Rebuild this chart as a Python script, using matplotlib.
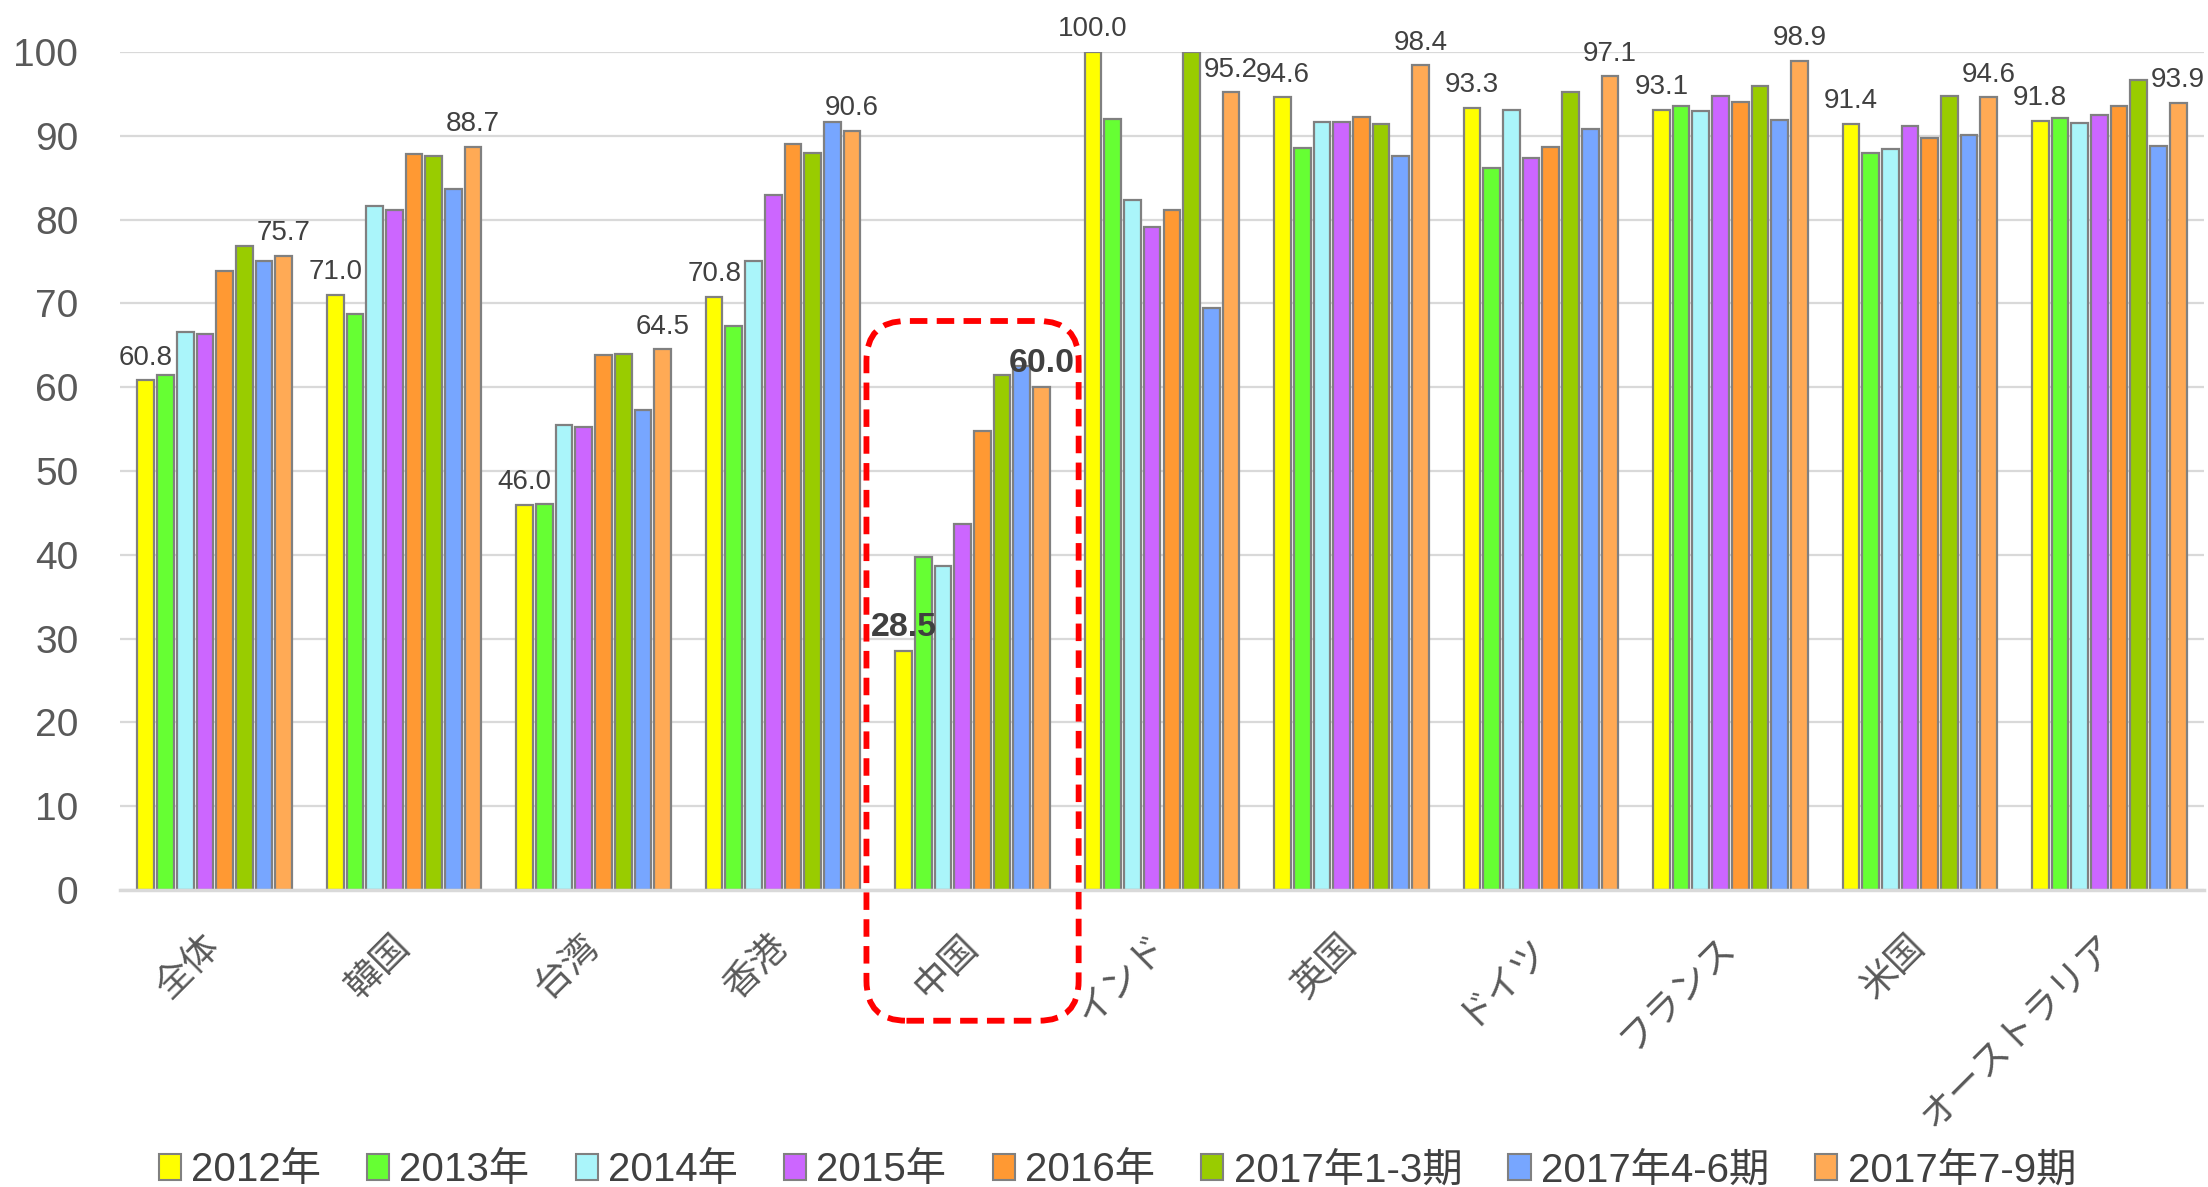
import matplotlib
matplotlib.use('Agg')
import matplotlib.pyplot as plt
from matplotlib.patches import FancyBboxPatch
from matplotlib.transforms import IdentityTransform
import numpy as np

plt.rcParams['font.family'] = ['Liberation Sans', 'Noto Sans CJK JP', 'DejaVu Sans']

categories = ['全体', '韓国', '台湾', '香港', '中国', 'インド', '英国', 'ドイツ', 'フランス', '米国', 'オーストラリア']
series_names = ['2012年', '2013年', '2014年', '2015年', '2016年', '2017年1-3期', '2017年4-6期', '2017年7-9期']
v2012 = [60.8, 71.0, 46.0, 70.8, 28.5, 100.0, 94.6, 93.3, 93.1, 91.4, 91.8]
v2013 = [61.5, 68.7, 46.1, 67.3, 39.7, 92.0, 88.5, 86.1, 93.5, 87.9, 92.1]
v2014 = [66.6, 81.6, 55.5, 75.1, 38.7, 82.3, 91.7, 93.1, 92.9, 88.4, 91.5]
v2015 = [66.4, 81.1, 55.2, 82.9, 43.7, 79.1, 91.7, 87.4, 94.8, 91.2, 92.5]
v2016 = [73.9, 87.8, 63.9, 89.0, 54.8, 81.2, 92.3, 88.7, 94.0, 89.7, 93.5]
v2017_1_3 = [76.8, 87.6, 64.0, 88.0, 61.5, 100.0, 91.4, 95.2, 95.9, 94.8, 96.6]
v2017_4_6 = [75.1, 83.6, 57.3, 91.6, 62.5, 69.4, 87.6, 90.8, 91.9, 90.1, 88.8]
v2017_7_9 = [75.7, 88.7, 64.5, 90.6, 60.0, 95.2, 98.4, 97.1, 98.9, 94.6, 93.9]
series_values = [v2012, v2013, v2014, v2015, v2016, v2017_1_3, v2017_4_6, v2017_7_9]
colors = ['#FFFF00', '#66FF33', '#AAF5FA', '#CC66FF', '#FF9933', '#99CC00', '#77A6FF', '#FFAA55']
yticks = [0, 10, 20, 30, 40, 50, 60, 70, 80, 90, 100]
highlight = '中国'

W, H = 2208, 1187
fig = plt.figure(figsize=(W / 100, H / 100), dpi=100)
ax = fig.add_axes([120 / W, 1 - 890 / H, (2204 - 120) / W, (890 - 52) / H])

x = np.arange(len(categories))
n = len(series_names)
step = 0.104
bw = 0.088
for i, (name, vals, c) in enumerate(zip(series_names, series_values, colors)):
    xs = x + (i - (n - 1) / 2) * step
    ax.bar(xs, vals, width=bw, color=c, edgecolor='#808080', linewidth=1.6, label=name, zorder=3)
    if i in (0, n - 1):
        for xi, v, cat in zip(xs, vals, categories):
            if cat == highlight:
                ax.annotate(f'{v:.1f}', (xi, v), xytext=(0, 6), textcoords='offset points',
                            ha='center', va='bottom', fontsize=24.5, fontweight='bold',
                            color='#404040', zorder=5)
            else:
                ax.annotate(f'{v:.1f}', (xi, v), xytext=(0, 7), textcoords='offset points',
                            ha='center', va='bottom', fontsize=20, color='#404040', zorder=5)

ax.set_xlim(-0.5, len(categories) - 0.5)
ax.set_ylim(0, 100)
ax.set_yticks(yticks)
ax.set_yticklabels([str(t) for t in yticks], fontsize=28, color='#595959')
ax.tick_params(axis='y', length=0, pad=30)
ax.set_xticks(x)
ax.set_xticklabels(categories, fontsize=26.5, color='#595959', rotation=45,
                   ha='right', va='center', rotation_mode='anchor')
ax.tick_params(axis='x', length=0, pad=37)
ax.yaxis.grid(True, color='#D9D9D9', linewidth=1.6, zorder=0)
ax.set_axisbelow(True)
for s in ['top', 'right', 'left']:
    ax.spines[s].set_visible(False)
ax.spines['bottom'].set_color('#D9D9D9')
ax.spines['bottom'].set_linewidth(2.5)
ax.spines['bottom'].set_zorder(4)

# highlight box around the 中国 group
hi = categories.index(highlight)
fig.canvas.draw()
p0 = ax.transData.transform((hi - 0.56, -15.6))
p1 = ax.transData.transform((hi + 0.56, 67.9))
box = FancyBboxPatch((p0[0], p0[1]), p1[0] - p0[0], p1[1] - p0[1],
                     boxstyle='round,pad=0,rounding_size=40',
                     transform=IdentityTransform(), fill=False,
                     edgecolor='#FF0000', linewidth=4.2, linestyle=(0, (3, 1.6)),
                     zorder=10, clip_on=False)
fig.add_artist(box)

leg = fig.legend(loc='center', bbox_to_anchor=(0.506, 0.014), ncol=n, frameon=False,
                 fontsize=29, handlelength=0.55, handleheight=0.6, handletextpad=0.25,
                 columnspacing=1.15, labelcolor='#404040')
for h in leg.legend_handles:
    h.set_edgecolor('#808080')
    h.set_linewidth(1.5)

fig.savefig('out.png', dpi=100)
